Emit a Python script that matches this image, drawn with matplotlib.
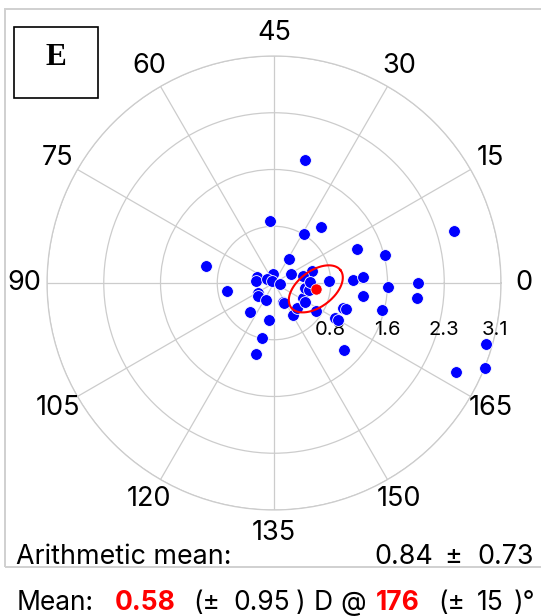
import numpy as np
import matplotlib
matplotlib.use('Agg')
import matplotlib.pyplot as plt
import matplotlib.patches as mpatches

plt.rcParams['font.family'] = ['Inter', 'DejaVu Sans']

# cylinder magnitude (D) and axis (deg) for each eye
magnitudes = [1.74, 0.86, 0.79, 1.00, 1.23, 1.57, 2.58, 0.97, 0.39, 0.55, 0.12, 0.26, 0.41,
              0.76, 1.08, 1.23, 1.57, 1.98, 0.66, 0.25, 0.25, 0.11, 0.03, 0.09, 0.26, 0.28,
              0.26, 0.52, 0.51, 0.78, 1.00, 0.29, 0.31, 0.51, 0.47, 0.45, 0.50, 0.43, 0.49,
              0.50, 0.70, 1.01, 1.06, 0.96, 1.02, 1.33, 1.24, 1.53, 1.98, 3.03, 3.13, 2.78]
axes_deg = [38, 47, 29, 25, 11, 7, 8, 83, 29, 9, 47, 14, 7, 1, 1, 2, 179, 180, 95, 81, 87,
            77, 68, 174, 106, 110, 122, 115, 131, 129, 128, 147, 148, 150, 156, 166, 164,
            175, 174, 1, 163, 170, 170, 165, 165, 158, 176, 173, 177, 172, 169, 167]

mean_mag = 0.58
mean_axis = 176
mean_sd = 0.95
axis_sd = 15
arith_mean = 0.84
arith_sd = 0.73

# confidence ellipse around the mean (D units, tilt in plot degrees)
ell_a = 0.426
ell_b = 0.247
ell_tilt = 37

r_max = 3.12
axis_labels = [0, 15, 30, 45, 60, 75, 90, 105, 120, 135, 150, 165]

W, H = 541, 616


def fx(px):
    return px / W


def fy(py):
    return (H - py) / H


fig = plt.figure(figsize=(W / 100, H / 100), dpi=100)

# outer frame and panel letter
fig.add_artist(mpatches.Rectangle((fx(5), fy(567)), 0.995, (567 - 9) / H,
                                  transform=fig.transFigure, fill=False,
                                  edgecolor='#d0d0d0', linewidth=1.4))
fig.add_artist(mpatches.Rectangle((fx(14), fy(98)), 84 / W, 71 / H,
                                  transform=fig.transFigure, fill=False,
                                  edgecolor='black', linewidth=1.2))
fig.text(fx(56), fy(57.5), 'E', ha='center', va='center', fontsize=22.5,
         fontweight='bold', family='Liberation Serif')

ax = fig.add_axes([0.0869, 0.1721, 0.8392, 0.737], projection='polar')
ax.set_ylim(0, r_max)
ticks = r_max * np.arange(1, 5) / 4
ax.set_yticks(ticks)
ax.set_yticklabels([])
ax.set_xticks(np.radians(2 * np.array(axis_labels)))
ax.set_xticklabels([])
ax.grid(True, color='#cccccc', linewidth=0.9)
ax.spines['polar'].set_color('#cccccc')
ax.spines['polar'].set_linewidth(0.9)

# axis labels (double-angle plot)
for a in axis_labels:
    ax.text(np.radians(2 * a), r_max * 250 / 227, str(a), ha='center', va='center',
            fontsize=19.5, color='black')

# ring labels below the 0 line
off = -0.65
for i, t in enumerate(ticks):
    x = t - (0.08 if i == 3 else 0)
    ax.text(np.arctan2(off, x), np.hypot(off, x), f'{t:.1f}', ha='center', va='center',
            fontsize=14.5, color='black')

# individual eyes
ax.scatter(np.radians(2 * np.array(axes_deg)), magnitudes, s=72, c='#0000ff',
           edgecolors='white', linewidths=0.6, zorder=3, clip_on=False)

# ellipse around the mean
cx = mean_mag * np.cos(np.radians(2 * mean_axis))
cy = mean_mag * np.sin(np.radians(2 * mean_axis))
t = np.linspace(0, 2 * np.pi, 200)
phi = np.radians(ell_tilt)
ex = cx + ell_a * np.cos(t) * np.cos(phi) - ell_b * np.sin(t) * np.sin(phi)
ey = cy + ell_a * np.cos(t) * np.sin(phi) + ell_b * np.sin(t) * np.cos(phi)
ax.plot(np.arctan2(ey, ex), np.hypot(ex, ey), color='red', linewidth=1.5, zorder=4)
ax.scatter([np.radians(2 * mean_axis)], [mean_mag], s=65, c='red', edgecolors='white',
           linewidths=0.5, zorder=5)

# summary texts
ya = fy(564)
fig.text(fx(16), ya, 'Arithmetic mean:', ha='left', va='baseline', fontsize=19.3)
fig.text(fx(374), ya, f'{arith_mean:.2f}', ha='left', va='baseline', fontsize=19.3)
fig.text(fx(453), ya, '\u00b1', ha='center', va='baseline', fontsize=19.3)
fig.text(fx(534), ya, f'{arith_sd:.2f}', ha='right', va='baseline', fontsize=19.3)

yb = fy(610)
fs = 19
fig.text(fx(17), yb, 'Mean:', ha='left', va='baseline', fontsize=fs)
fig.text(fx(115), yb, f'{mean_mag:.2f}', ha='left', va='baseline', fontsize=fs,
         color='red', fontweight='bold')
fig.text(fx(193), yb, '(\u00b1', ha='left', va='baseline', fontsize=fs)
fig.text(fx(233), yb, f'{mean_sd:.2f}', ha='left', va='baseline', fontsize=fs)
fig.text(fx(296), yb, ')', ha='left', va='baseline', fontsize=fs)
fig.text(fx(314), yb, 'D', ha='left', va='baseline', fontsize=fs)
fig.text(fx(340), yb, '@', ha='left', va='baseline', fontsize=fs)
fig.text(fx(376), yb, f'{mean_axis}', ha='left', va='baseline', fontsize=fs,
         color='red', fontweight='bold')
fig.text(fx(438), yb, '(\u00b1', ha='left', va='baseline', fontsize=fs)
fig.text(fx(477), yb, f'{axis_sd}', ha='left', va='baseline', fontsize=fs)
fig.text(fx(514), yb, ')\u00b0', ha='left', va='baseline', fontsize=fs)

fig.savefig('out.png', dpi=100, facecolor='white')
